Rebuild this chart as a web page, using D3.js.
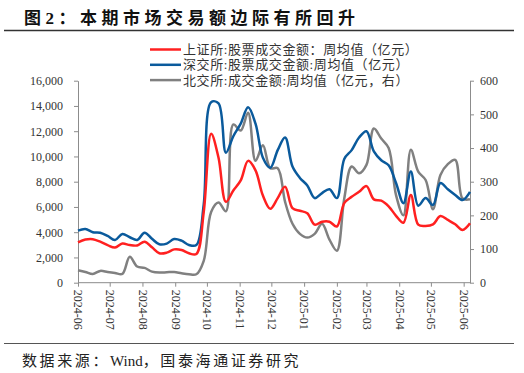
<!DOCTYPE html>
<html>
<head>
<meta charset="utf-8">
<script src="https://cdn.jsdelivr.net/npm/d3@7"></script>
<style>
    body { margin: 0; background: #fff; }
    svg { display: block; }
</style>
</head>
<body>
<div id="chart"></div>
<script>
    // Weekly averages, one point per week starting 2024-06-01
    const firstWeek = new Date(2024, 5, 1);
    const shValues = [3200, 3420, 3450, 3250, 2980, 2780, 3100, 2980, 2950, 3250,
        2800, 2330, 2380, 2640, 2590, 2330, 2270, 5600, 11800, 9900,
        6400, 7300, 8100, 9650, 8900, 6900, 5850, 6700, 7600, 5900,
        5700, 5500, 4600, 4830, 4830, 4450, 6300, 6800, 7200, 7650,
        6600, 6500, 6050, 5300, 4750, 6950, 4600, 4500, 4620, 5280,
        4970, 4630, 4170, 4700];
    const szValues = [4120, 4250, 4000, 3960, 3700, 3380, 3860, 3600, 3380, 3960,
        3480, 3040, 3100, 3460, 3330, 2990, 2980, 6200, 14300, 14200,
        10300, 11600, 12600, 13900, 12600, 9900, 9100, 10500, 11500, 9200,
        8300, 7700, 6700, 7100, 7400, 6700, 9800, 10500, 11500, 12000,
        10400, 9700, 9300, 7900, 6300, 8800, 6100, 6700, 6150, 7900,
        7400, 6950, 6550, 7200];
    const bjValues = [37, 32, 26, 35, 32, 29, 26, 77, 48, 44,
        33, 30, 31, 32, 28, 25, 25, 65, 210, 238,
        212, 470, 452, 505, 362, 408, 340, 340, 240, 175,
        145, 134, 145, 175, 128, 95, 250, 345, 325, 350,
        458, 428, 400, 260, 200, 395, 330, 305, 218, 320,
        352, 365, 250, 248];

    const leftTicks = [0, 2000, 4000, 6000, 8000, 10000, 12000, 14000, 16000];
    const rightTicks = [0, 100, 200, 300, 400, 500, 600];
    const seriesNames = ["上证所:股票成交金额：周均值（亿元）", "深交所:股票成交金额:周均值（亿元）", "北交所:成交金额:周均值（亿元，右）"];
    const seriesColors = ["#ff2020", "#0a5a9c", "#808080"];

    const dates = shValues.map((d, i) => d3.timeDay.offset(firstWeek, 7 * i));

    const width = 524, height = 373;
    const plot = { left: 78, right: 470, top: 80.7, bottom: 282.7 };

    const svg = d3.select("#chart").append("svg")
        .attr("width", width)
        .attr("height", height);

    const x = d3.scaleTime()
        .domain([dates[0], dates[dates.length - 1]])
        .range([plot.left, plot.right]);
    const yLeft = d3.scaleLinear().domain([0, 16000]).range([plot.bottom, plot.top]);
    const yRight = d3.scaleLinear().domain([0, 600]).range([plot.bottom, plot.top]);

    const serif = "'Liberation Serif', 'Times New Roman', 'Noto Sans CJK SC', serif";
    const cjk = "'Liberation Serif', 'Noto Sans CJK SC', sans-serif";

    // Title and rules
    svg.append("text")
        .attr("x", 24).attr("y", 24)
        .style("font-family", cjk)
        .style("font-size", "17px")
        .style("font-weight", "bold")
        .style("letter-spacing", "4.5px")
        .style("fill", "#111")
        .text("图2：本期市场交易额边际有所回升");
    svg.append("line")
        .attr("x1", 4).attr("x2", 514).attr("y1", 30.5).attr("y2", 30.5)
        .attr("stroke", "#333").attr("stroke-width", 1.3);
    svg.append("line")
        .attr("x1", 4).attr("x2", 514).attr("y1", 343.5).attr("y2", 343.5)
        .attr("stroke", "#555").attr("stroke-width", 1);
    const source = svg.append("text")
        .attr("x", 22).attr("y", 366)
        .style("font-family", cjk)
        .style("font-size", "15px")
        .style("fill", "#222");
    source.append("tspan").style("letter-spacing", "2.6px").text("数据来源：");
    source.append("tspan").style("letter-spacing", "0px").text("Wind");
    source.append("tspan").style("letter-spacing", "2.6px").text("，国泰海通证券研究");

    // Axes
    function styleAxis(g) {
        g.selectAll("path, line").attr("stroke", "#8c8c8c");
        g.selectAll("text")
            .style("font-family", serif)
            .style("font-size", "12px")
            .style("fill", "#333");
    }

    svg.append("g")
        .attr("transform", `translate(${plot.left},0)`)
        .call(d3.axisLeft(yLeft).tickValues(leftTicks).tickSize(4).tickSizeOuter(0).tickPadding(11).tickFormat(d3.format(",")))
        .call(styleAxis);

    svg.append("g")
        .attr("transform", `translate(${plot.right},0)`)
        .call(d3.axisRight(yRight).tickValues(rightTicks).tickSize(4).tickSizeOuter(0).tickPadding(6))
        .call(styleAxis);

    const xAxis = svg.append("g")
        .attr("transform", `translate(0,${plot.bottom})`)
        .call(d3.axisBottom(x).ticks(d3.timeMonth.every(1)).tickSize(4).tickSizeOuter(0).tickFormat(d3.timeFormat("%Y-%m")))
        .call(styleAxis);
    xAxis.select(".domain").attr("d", `M${plot.left},0H${plot.right}`);
    xAxis.selectAll("text")
        .attr("transform", "rotate(90)")
        .attr("x", 7)
        .attr("y", 0)
        .attr("dy", "0.35em")
        .style("text-anchor", "start");

    // Lines
    const curve = d3.curveCatmullRom.alpha(0.5);
    const lineLeft = d3.line().x((d, i) => x(dates[i])).y(d => yLeft(d)).curve(curve);
    const lineRight = d3.line().x((d, i) => x(dates[i])).y(d => yRight(d)).curve(curve);

    svg.append("path").datum(bjValues)
        .attr("d", lineRight)
        .attr("fill", "none").attr("stroke", seriesColors[2]).attr("stroke-width", 2.5);
    svg.append("path").datum(szValues)
        .attr("d", lineLeft)
        .attr("fill", "none").attr("stroke", seriesColors[1]).attr("stroke-width", 2.5);
    svg.append("path").datum(shValues)
        .attr("d", lineLeft)
        .attr("fill", "none").attr("stroke", seriesColors[0]).attr("stroke-width", 2.5);

    // Legend
    const legend = svg.append("g");
    seriesNames.forEach((name, i) => {
        const yy = 49.5 + i * 15.3;
        legend.append("line")
            .attr("x1", 150).attr("x2", 181).attr("y1", yy).attr("y2", yy)
            .attr("stroke", seriesColors[i]).attr("stroke-width", 2.5);
        legend.append("text")
            .attr("x", 183).attr("y", yy).attr("dy", "0.36em")
            .style("font-family", cjk)
            .style("font-size", "13px")
            .style("letter-spacing", "0.6px")
            .style("fill", "#333")
            .text(name);
    });
</script>
</body>
</html>
